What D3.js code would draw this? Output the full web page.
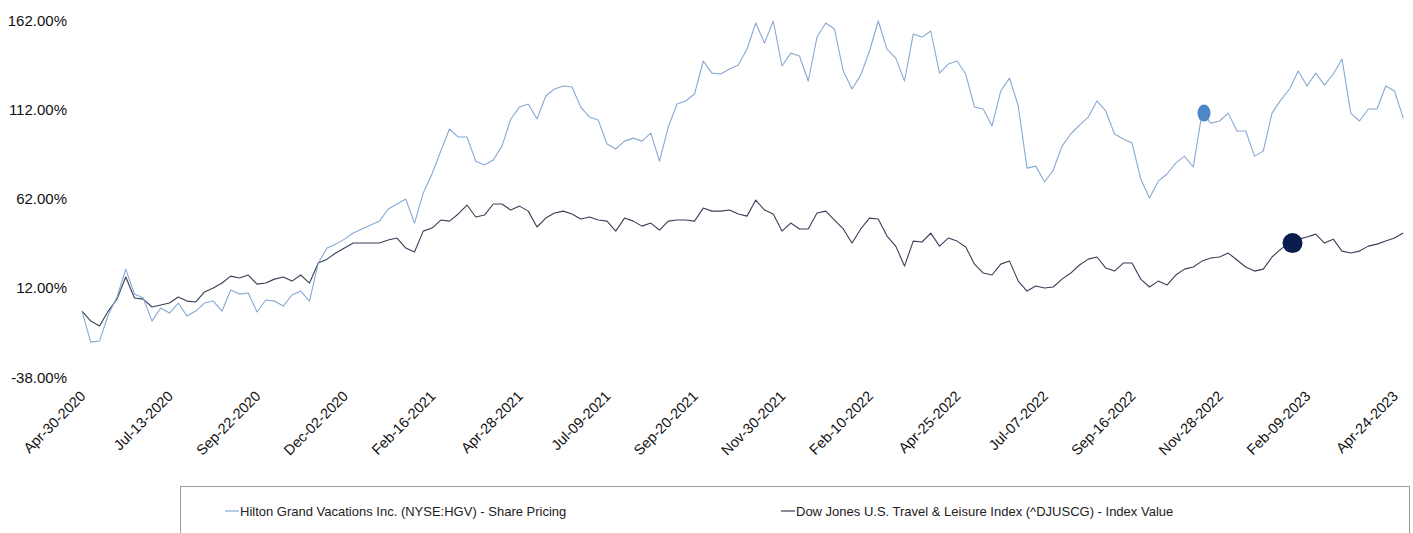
<!DOCTYPE html>
<html>
<head>
<meta charset="utf-8">
<script src="https://cdn.jsdelivr.net/npm/d3@7"></script>
<style>
  html, body { margin: 0; padding: 0; background: #fff; }
  svg { display: block; font-family: "Liberation Sans", Arial, sans-serif; }
</style>
</head>
<body>
<svg id="chart" width="1413" height="533"></svg>
<script>
// Tick labels on the trading-day axis (one every 50 sessions)
const tickLabels = ["Apr-30-2020","Jul-13-2020","Sep-22-2020","Dec-02-2020","Feb-16-2021",
  "Apr-28-2021","Jul-09-2021","Sep-20-2021","Nov-30-2021","Feb-10-2022","Apr-25-2022",
  "Jul-07-2022","Sep-16-2022","Nov-28-2022","Feb-09-2023","Apr-24-2023"];
const tickEvery = 50;      // sessions between labelled ticks
const sampleEvery = 5;     // sessions between stored observations (weekly)
const totalSessions = 755;

// Y axis ticks (cumulative return, %)
const yTicks = [-38, 12, 62, 112, 162];

// Hilton Grand Vacations Inc. (NYSE:HGV) - cumulative share price change, %
const hgv = [
  -0.9,-18.3,-17.7,-3.1,7.0,22.6,8.6,6.4,-6.5,0.8,
  -2.0,3.6,-3.7,-0.9,3.6,4.7,-0.9,10.9,8.6,9.2,
  -1.4,5.3,4.7,1.9,8.1,10.3,4.7,26.0,34.4,36.6,
  39.4,42.8,45.1,47.3,49.5,56.3,59.1,61.9,48.4,65.2,
  75.9,88.7,101.1,96.6,96.6,83.1,80.9,83.7,91.5,106.7,
  113.4,115.1,106.7,119.6,123.5,125.2,124.6,113.4,107.8,106.1,
  92.7,89.9,94.3,96.0,94.3,98.8,83.1,102.2,115.1,116.8,
  120.7,139.2,132.4,131.9,134.7,136.9,145.9,160.5,149.2,161.6,
  136.4,143.6,142.0,128.0,152.6,160.5,157.1,133.6,123.5,131.3,
  144.8,161.6,145.9,140.8,128.0,154.3,152.6,156.0,132.4,137.5,
  139.2,131.9,113.4,112.3,102.8,122.4,129.6,114.0,79.2,80.3,
  71.4,78.1,91.5,98.3,103.3,107.8,116.8,111.2,98.3,95.5,
  93.2,73.1,62.4,71.9,75.9,82.0,85.9,79.8,110.0,104.4,
  105.6,110.0,100.0,100.0,85.9,88.7,110.0,117.3,123.5,133.6,
  125.2,132.4,125.7,131.9,140.3,110.0,105.6,112.3,112.3,125.2,
  122.4,107.2
];

// Dow Jones U.S. Travel & Leisure Index (^DJUSCG) - cumulative index change, %
const djuscg = [
  -0.9,-6.5,-9.3,-0.9,5.8,18.2,6.4,5.8,1.4,2.5,
  3.6,7.0,4.7,4.2,9.8,12.0,14.8,18.7,17.6,19.3,
  14.2,14.8,17.0,18.2,15.9,19.3,14.8,26.0,28.2,31.6,
  34.4,37.2,37.2,37.2,37.2,38.9,40.0,34.4,32.2,43.9,
  45.6,50.1,49.5,53.5,58.5,51.8,52.9,59.1,59.1,55.7,
  57.9,55.1,46.2,51.2,54.0,55.1,53.5,50.7,51.8,50.1,
  49.5,43.9,51.2,49.5,46.7,48.4,44.5,49.5,50.1,50.1,
  49.5,56.8,55.1,55.1,55.7,53.5,52.3,61.3,55.7,53.5,
  43.9,48.4,45.1,45.1,54.0,55.1,50.1,45.1,37.2,45.1,
  51.2,50.7,41.1,35.5,24.3,38.3,37.8,42.8,35.5,40.0,
  38.3,35.0,25.4,20.4,19.3,25.4,27.1,15.9,10.3,13.1,
  12.0,12.6,17.0,20.4,24.9,28.2,29.4,23.2,21.5,26.0,
  26.0,17.0,12.6,15.9,13.7,19.3,22.6,23.8,27.1,28.8,
  29.4,31.6,27.7,23.8,21.5,22.6,29.4,33.8,37.2,39.4,
  40.6,42.2,37.2,39.4,32.7,31.6,32.7,35.5,36.6,38.3,
  40.0,42.8
];

// Highlighted observations (index into the weekly arrays)
const hgvMarkerIndex = 128;
const djMarkerIndex = 138;

const seriesNames = [
  "Hilton Grand Vacations Inc. (NYSE:HGV) - Share Pricing",
  "Dow Jones U.S. Travel & Leisure Index (^DJUSCG) - Index Value"
];
const colors = { hgv: "#86a9d3", dj: "#3b3e58", hgvMarker: "#4d87c7", djMarker: "#0b1d4d" };

const svg = d3.select("#chart");

const x = d3.scaleLinear().domain([0, totalSessions]).range([82, 1403.25]);
const y = d3.scaleLinear().domain([-38, 162]).range([377.3, 20.3]);

// Y axis labels (no axis line, no gridlines)
const yAxis = d3.axisLeft(y).tickValues(yTicks).tickSize(0).tickPadding(0)
  .tickFormat(d => d.toFixed(2) + "%");
svg.append("g")
  .attr("transform", "translate(67,0)")
  .call(yAxis)
  .call(g => g.select(".domain").remove())
  .call(g => g.selectAll("text")
    .attr("font-size", 15)
    .attr("font-family", "'Liberation Sans', Arial, sans-serif")
    .attr("fill", "#111"));

// X axis labels, rotated 45 degrees
const tickIdx = tickLabels.map((_, i) => i * tickEvery);
const xAxis = d3.axisBottom(x).tickValues(tickIdx).tickSize(0)
  .tickFormat((d, i) => tickLabels[i]);
svg.append("g")
  .attr("transform", "translate(0,397)")
  .call(xAxis)
  .call(g => g.select(".domain").remove())
  .call(g => g.selectAll("text")
    .attr("font-size", 14.5)
    .attr("font-family", "'Liberation Sans', Arial, sans-serif")
    .attr("fill", "#111")
    .attr("text-anchor", "end")
    .attr("dy", 0)
    .attr("y", 0)
    .attr("transform", "translate(4,0) rotate(-45)"));

// Lines
const line = d3.line()
  .x((d, i) => x(i * sampleEvery))
  .y(d => y(d));

svg.append("path")
  .datum(djuscg)
  .attr("fill", "none")
  .attr("stroke", colors.dj)
  .attr("stroke-width", 1.1)
  .attr("stroke-linejoin", "round")
  .attr("d", line);

svg.append("path")
  .datum(hgv)
  .attr("fill", "none")
  .attr("stroke", colors.hgv)
  .attr("stroke-width", 1.1)
  .attr("stroke-linejoin", "round")
  .attr("d", line);

// Markers
svg.append("ellipse")
  .attr("cx", x(hgvMarkerIndex * sampleEvery) + 2)
  .attr("cy", y(hgv[hgvMarkerIndex]))
  .attr("rx", 6.5).attr("ry", 8.5)
  .attr("fill", colors.hgvMarker);

svg.append("circle")
  .attr("cx", x(djMarkerIndex * sampleEvery) + 3)
  .attr("cy", y(djuscg[djMarkerIndex]))
  .attr("r", 10)
  .attr("fill", colors.djMarker);

// Legend
const legend = svg.append("g");
legend.append("rect")
  .attr("x", 180.5).attr("y", 486.5)
  .attr("width", 1229).attr("height", 80)
  .attr("fill", "none").attr("stroke", "#9c9c9c").attr("stroke-width", 1);

const legendItems = [
  { x: 225, color: colors.hgv, label: seriesNames[0] },
  { x: 781, color: colors.dj, label: seriesNames[1] }
];
legendItems.forEach(it => {
  legend.append("line")
    .attr("x1", it.x).attr("x2", it.x + 14)
    .attr("y1", 511).attr("y2", 511)
    .attr("stroke", it.color).attr("stroke-width", 1.2);
  legend.append("text")
    .attr("x", it.x + 15).attr("y", 515.5)
    .attr("font-size", 13)
    .attr("font-family", "'Liberation Sans', Arial, sans-serif")
    .attr("fill", "#222")
    .text(it.label);
});
</script>
</body>
</html>
